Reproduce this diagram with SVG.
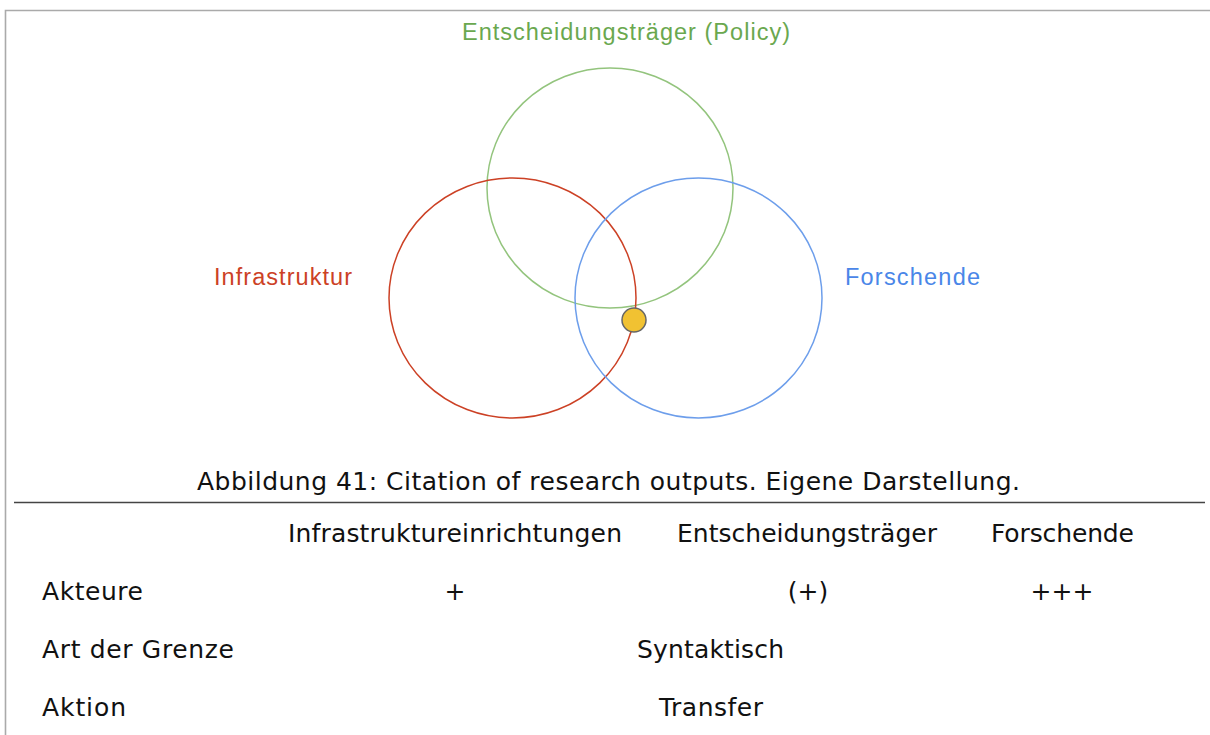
<svg xmlns="http://www.w3.org/2000/svg" width="1210" height="735" viewBox="0 0 1210 735">
<style>
.c{fill:none;stroke-width:1.5}
.lbl{font-family:"Liberation Sans",Arial,sans-serif;font-size:23.5px}
.t{font-family:"DejaVu Sans","Liberation Sans",sans-serif;font-size:25px;fill:#111}
</style>
<rect width="1210" height="735" fill="#fff"/>
<path d="M5.5 735 V10.5 H1210" fill="none" stroke="#aaa" stroke-width="1.6"/>
<g id="policy"><ellipse class="c" cx="610" cy="188" rx="123" ry="120" stroke="#93c47d"/></g>
<g id="infrastruktur"><ellipse class="c" cx="512.5" cy="298" rx="123.5" ry="120" stroke="#cc4125"/></g>
<g id="forschende"><ellipse class="c" cx="698.5" cy="298" rx="123.5" ry="120" stroke="#6d9eeb"/></g>
<g id="dot"><circle cx="634" cy="320" r="12" fill="#f1c232" stroke="#666" stroke-width="1.5"/></g>
<g id="labels">
<text class="lbl" x="626" y="40" text-anchor="middle" fill="#6aa84f" textLength="328">Entscheidungsträger (Policy)</text>
<text class="lbl" x="214" y="285" fill="#cc4125" textLength="138">Infrastruktur</text>
<text class="lbl" x="845" y="285" fill="#4a86e8" textLength="135">Forschende</text>
</g>
<g id="caption">
<text class="t" x="197" y="490" textLength="823">Abbildung 41: Citation of research outputs. Eigene Darstellung.</text>
<line x1="14" y1="502.5" x2="1205" y2="502.5" stroke="#444" stroke-width="1.3"/>
</g>
<g id="table">
<text class="t" x="288" y="542" textLength="334">Infrastruktureinrichtungen</text>
<text class="t" x="677" y="542" textLength="260">Entscheidungsträger</text>
<text class="t" x="991" y="542" textLength="143">Forschende</text>
<text class="t" x="42" y="600" textLength="101">Akteure</text>
<text class="t" x="455" y="600" text-anchor="middle">+</text>
<text class="t" x="808" y="600" text-anchor="middle">(+)</text>
<text class="t" x="1062" y="600" text-anchor="middle">+++</text>
<text class="t" x="42" y="658" textLength="192">Art der Grenze</text>
<text class="t" x="637" y="658" textLength="147">Syntaktisch</text>
<text class="t" x="42" y="716" textLength="84">Aktion</text>
<text class="t" x="659" y="716" textLength="104">Transfer</text>
</g>
</svg>
